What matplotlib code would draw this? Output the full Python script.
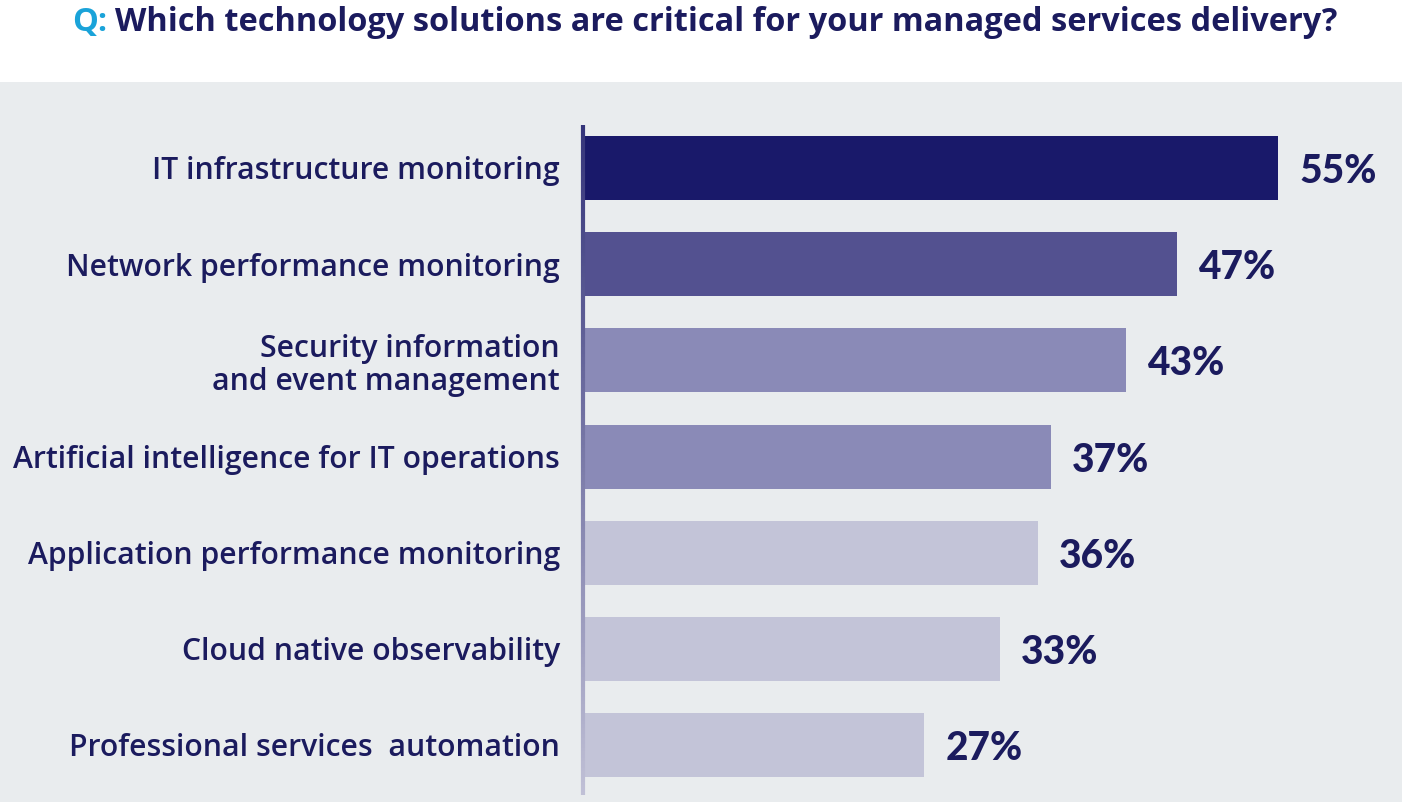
import matplotlib
matplotlib.use("Agg")
import matplotlib.pyplot as plt
from matplotlib.patches import Rectangle
from matplotlib.collections import LineCollection
import matplotlib.colors as mcolors
import numpy as np

categories = [
    "IT infrastructure monitoring",
    "Network performance monitoring",
    "Security information\nand event management",
    "Artificial intelligence for IT operations",
    "Application performance monitoring",
    "Cloud native observability",
    "Professional services  automation",
]
values = [55, 47, 43, 37, 36, 33, 27]
value_labels = ["55%", "47%", "43%", "37%", "36%", "33%", "27%"]
bar_colors = ["#19196a", "#535190", "#8a8ab7", "#8a8ab7", "#c3c4d8", "#c3c4d8", "#c3c4d8"]

title_q = "Q:"
title_rest = "Which technology solutions are critical for your managed services delivery?"

DARK = "#1b1b5e"
CYAN = "#1aa3d9"
BG = "#e9ecee"

W, H = 1402, 802
fig = plt.figure(figsize=(W / 100, H / 100), dpi=100)
fig.patch.set_facecolor("white")

# gray panel
panel = Rectangle((0, 0), 1, 1 - 82 / H, transform=fig.transFigure,
                  facecolor=BG, edgecolor="none", zorder=-10)
fig.patches.append(panel)

x0 = 583 / W
ax_top = 125
ax_bot = 795
ax = fig.add_axes([x0, 1 - ax_bot / H, 1 - x0, (ax_bot - ax_top) / H])
ax.set_zorder(5)
ax.set_facecolor("none")

n = len(categories)
pos = np.arange(n)
spacing_px = (745 - 168) / (n - 1)
top_lim = -(168 - ax_top) / spacing_px
bot_lim = (n - 1) + (ax_bot - 745) / spacing_px
px_per_unit = (1278 - 583) / 55
ax.set_xlim(0, (W - 583) / px_per_unit)
ax.set_ylim(bot_lim, top_lim)

ax.barh(pos, values, height=64 / spacing_px, color=bar_colors, edgecolor="none", zorder=2)

for p, v, lab in zip(pos, values, value_labels):
    ax.text(v + 21 / px_per_unit, p, lab, ha="left", va="center_baseline",
            fontsize=28, fontweight="black", family=["Lato", "DejaVu Sans"], color=DARK)

ax.set_yticks(pos)
ax.set_yticklabels(categories, fontsize=21.7, fontweight=600,
                   family=["Open Sans", "DejaVu Sans"],
                   color=DARK, linespacing=1.12)
for t in ax.get_yticklabels():
    t.set_multialignment("right")
ax.tick_params(axis="y", length=0, pad=16.5)
ax.set_xticks([])
for s in ax.spines.values():
    s.set_visible(False)

# gradient axis line
ys = np.linspace(top_lim, bot_lim, 200)
segs = [[(0, ys[i]), (0, ys[i + 1])] for i in range(len(ys) - 1)]
c0 = np.array(mcolors.to_rgb("#34347a"))
c1 = np.array(mcolors.to_rgb("#c0c0d6"))
cols = [tuple(c0 + (c1 - c0) * i / (len(segs) - 1)) for i in range(len(segs))]
lc = LineCollection(segs, colors=cols, linewidths=3, zorder=3, clip_on=False)
ax.add_collection(lc)

# title
ty = 1 - 31 / H
tq = fig.text(72 / W, ty, title_q, ha="left", va="baseline", fontsize=23.4,
              fontweight="bold", family=["Open Sans", "DejaVu Sans"], color=CYAN)
fig.canvas.draw()
r = fig.canvas.get_renderer()
bb = tq.get_window_extent(renderer=r)
fig.text((bb.x1 + 8) / W, ty, title_rest, ha="left", va="baseline", fontsize=23.4,
         fontweight="bold", family=["Open Sans", "DejaVu Sans"], color=DARK)

fig.savefig("out.png", dpi=100, facecolor=fig.get_facecolor())
